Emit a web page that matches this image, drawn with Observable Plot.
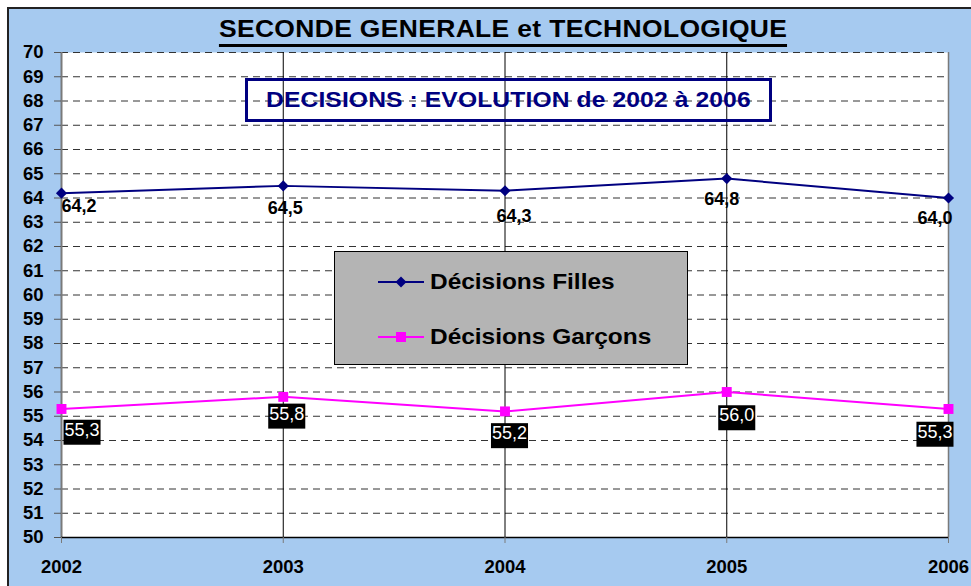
<!DOCTYPE html>
<html><head><meta charset="utf-8">
<script src="https://cdn.jsdelivr.net/npm/d3@7"></script>
<script src="https://cdn.jsdelivr.net/npm/@observablehq/plot@0.6"></script>
<style>
html,body{margin:0;padding:0;background:#fff;}
#wrap{position:relative;width:971px;height:586px;overflow:hidden;font-family:"Liberation Sans",Arial,sans-serif;}
#bg{position:absolute;left:7px;top:7px;width:1000px;height:1000px;background:#a6caf0;border:2px solid #222;}
#chart{position:absolute;left:0;top:0;}
#title{position:absolute;left:0;top:18px;width:1006px;text-align:center;}
#title span{display:inline-block;font-weight:bold;font-size:23px;line-height:23px;letter-spacing:0.3px;padding-bottom:2.5px;border-bottom:3px solid #000;transform:scaleX(1.15);transform-origin:center;}
#subtitle{position:absolute;left:245px;top:78px;width:527px;height:44px;box-sizing:border-box;border:3px solid #000080;color:#000080;font-weight:bold;font-size:22px;display:flex;align-items:center;justify-content:center;}
#subtitle span{display:inline-block;transform:scaleX(1.12);letter-spacing:0.1px;}
#legend{position:absolute;left:334px;top:251px;width:354px;height:114px;box-sizing:border-box;background:#b4b4b4;border:1px solid #000;}
.item{position:absolute;left:43px;height:24px;display:flex;align-items:center;font-weight:bold;font-size:22px;white-space:nowrap;}
.item svg{margin-right:6px;display:block}
.item span{display:inline-block;transform:scaleX(1.11);transform-origin:left center;}
</style></head>
<body>
<div id="wrap">
  <div id="bg"></div>
  <div id="chart"></div>
  <div id="title"><span>SECONDE GENERALE et TECHNOLOGIQUE</span></div>
  <div id="subtitle"><span>DECISIONS : EVOLUTION de 2002 à 2006</span></div>
  <div id="legend">
    <div class="item" style="top:18px"><svg width="46" height="14"><line x1="0" x2="46" y1="7" y2="7" stroke="#000080" stroke-width="2"/><polygon points="23,1.5 28.5,7 23,12.5 17.5,7" fill="#000080"/></svg><span id="l1"></span></div>
    <div class="item" style="top:73px"><svg width="46" height="14"><line x1="0" x2="46" y1="7" y2="7" stroke="#ff00ff" stroke-width="2"/><rect x="18" y="2" width="10" height="10" fill="#ff00ff"/></svg><span id="l2"></span></div>
  </div>
</div>
<script>
// ---- data ----
const years = [2002, 2003, 2004, 2005, 2006];
const filles = [64.2, 64.5, 64.3, 64.8, 64.0];
const garcons = [55.3, 55.8, 55.2, 56.0, 55.3];
const seriesNames = ["Décisions Filles", "Décisions Garçons"];
const yTicks = [50,51,52,53,54,55,56,57,58,59,60,61,62,63,64,65,66,67,68,69,70];
const xTickLabels = ["2002", "2003", "2004", "2005", "2006"];

document.getElementById("l1").textContent = seriesNames[0];
document.getElementById("l2").textContent = seriesNames[1];

const fRows = years.map((y, i) => ({year: y, v: filles[i]}));
const gRows = years.map((y, i) => ({year: y, v: garcons[i]}));
const fmt = v => d3.format(".1f")(v).replace(".", ",");
const font = "Liberation Sans, Arial, sans-serif";

// label placement (anchor, dx, dy) – styling only
const fNudge = [["start",0,13],["middle",2,22.5],["middle",9,26],["middle",-5,21],["end",4,20.5]];
const gNudge = [["start",3,21],["middle",3.5,17],["middle",4.5,22],["middle",10,23.5],["end",4,23]];

const fLabels = fRows.map((d, i) => Plot.text([d], {
  x: "year", y: "v", text: r => fmt(r.v), textAnchor: fNudge[i][0], dx: fNudge[i][1], dy: fNudge[i][2],
  fontSize: 18, fontWeight: "bold", fill: "black"
}));
const gLabels = gRows.map((d, i) => Plot.text([d], {
  x: "year", y: "v", text: r => fmt(r.v), textAnchor: gNudge[i][0], dx: gNudge[i][1], dy: gNudge[i][2],
  fontSize: 18, fill: "white", className: "glab"
}));

const chart = Plot.plot({
  width: 971, height: 586,
  marginLeft: 61, marginRight: 23, marginTop: 52, marginBottom: 49,
  style: {background: "transparent", fontFamily: font, overflow: "visible"},
  x: {domain: [2002, 2006], label: null},
  y: {domain: [50, 70], label: null},
  marks: [
    Plot.frame({fill: "white"}),
    Plot.ruleY(yTicks.filter(d => d > 50), {stroke: "#333", strokeDasharray: "7,5", strokeWidth: 1}),
    Plot.ruleX(years.slice(1, 4), {stroke: "#000", strokeWidth: 1}),
    Plot.ruleX([years[4]], {stroke: "#7a7a7a", strokeWidth: 1.5}),
    Plot.ruleX([years[0]], {stroke: "#7a7a7a", strokeWidth: 2}),
    Plot.ruleY([yTicks[0]], {stroke: "#000", strokeWidth: 1.5}),
    Plot.axisY({ticks: yTicks, tickSize: 7, tickPadding: 11, fontSize: 18.5, fontWeight: "bold", stroke: "#555", label: null}),
    Plot.axisX({ticks: years, tickSize: 6, tickPadding: 16, fontSize: 18.5, fontWeight: "bold", stroke: "#7a7a7a", label: null,
      tickFormat: d => xTickLabels[years.indexOf(d)]}),
    Plot.line(fRows, {x: "year", y: "v", stroke: "#000080", strokeWidth: 2}),
    Plot.line(gRows, {x: "year", y: "v", stroke: "#ff00ff", strokeWidth: 2}),
    Plot.dot(fRows, {x: "year", y: "v", symbol: "diamond2", r: 5, fill: "#000080", stroke: "none"}),
    Plot.dot(gRows, {x: "year", y: "v", symbol: "square", r: 5.6, fill: "#ff00ff", stroke: "none"}),
    ...fLabels,
    ...gLabels
  ]
});
document.getElementById("chart").appendChild(chart);

document.querySelectorAll(".glab text").forEach(t => {
  const bb = t.getBBox();
  const r = document.createElementNS("http://www.w3.org/2000/svg", "rect");
  r.setAttribute("x", bb.x - 1);
  r.setAttribute("y", bb.y);
  r.setAttribute("width", bb.width + 2);
  r.setAttribute("height", bb.height + 5);
  r.setAttribute("fill", "black");
  if (t.getAttribute("transform")) r.setAttribute("transform", t.getAttribute("transform"));
  t.parentNode.insertBefore(r, t);
});
</script>
</body></html>
